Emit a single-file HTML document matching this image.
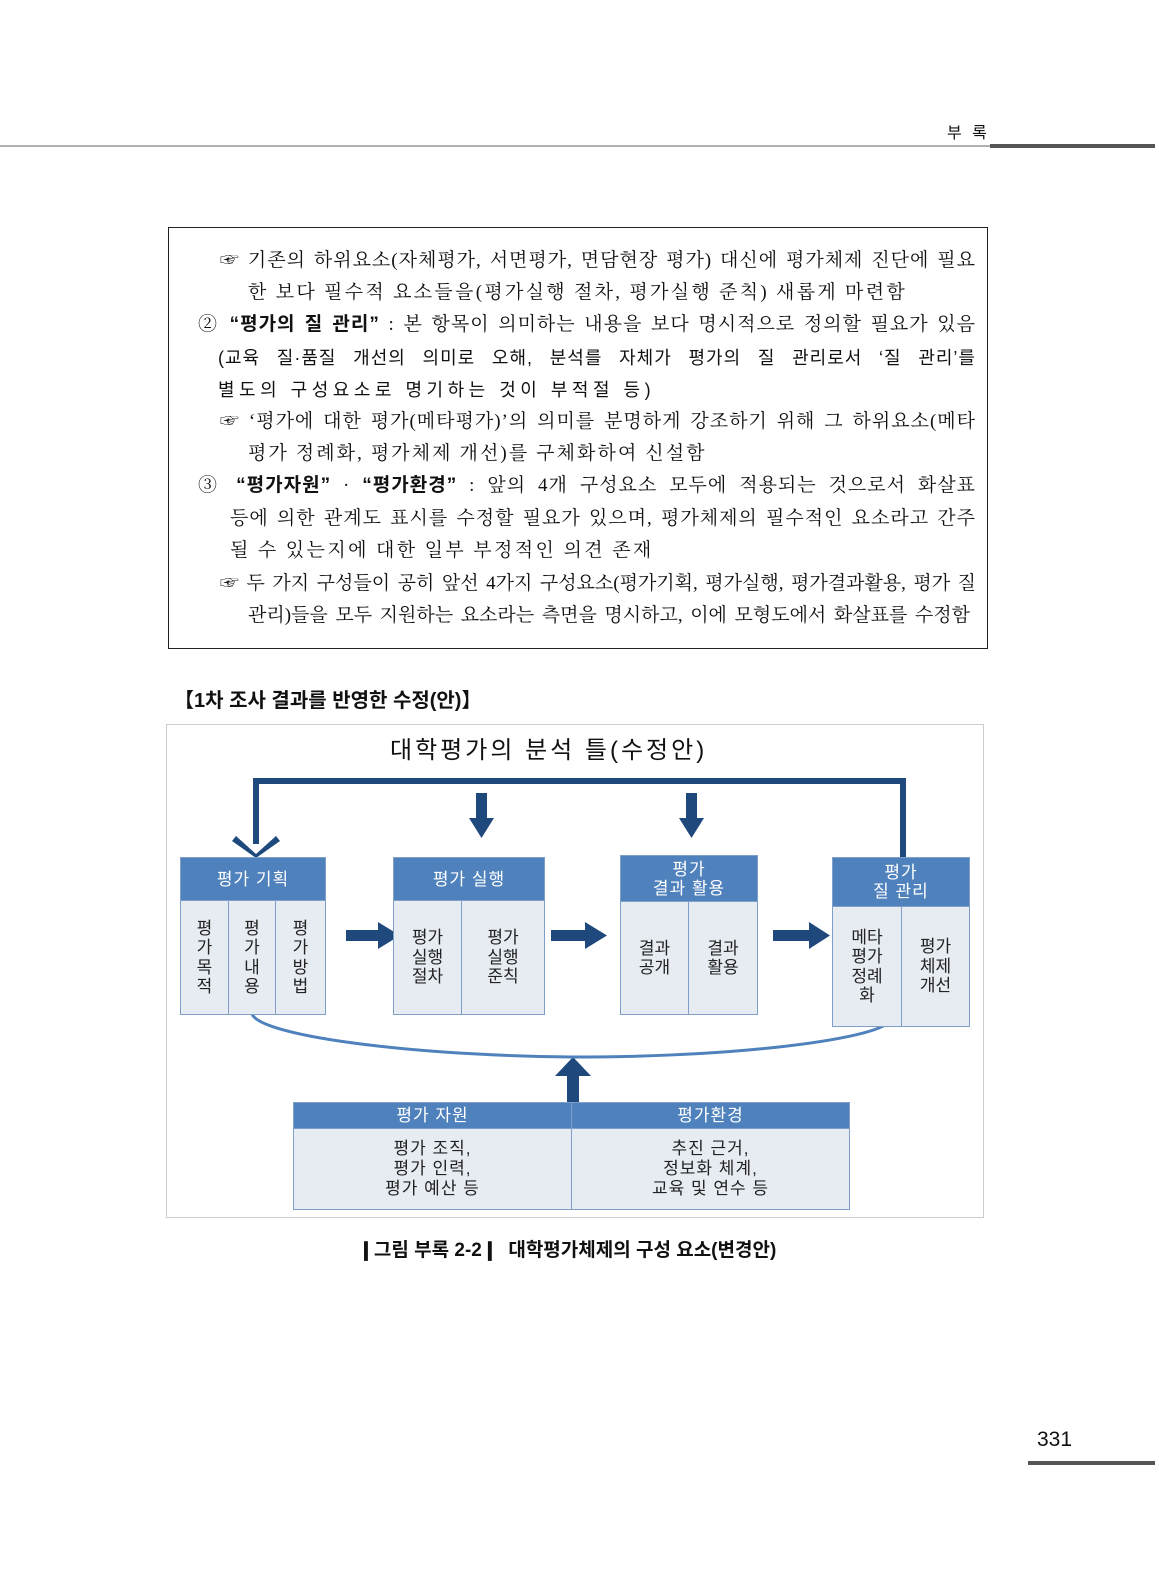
<!DOCTYPE html>
<html><head><meta charset="utf-8"><style>
body{margin:0;width:1159px;height:1571px;background:#fff;position:relative;overflow:hidden;font-family:"Liberation Serif","Noto Serif CJK SC",serif;color:#111}
.a{position:absolute;white-space:nowrap}
.l{position:absolute;font-size:19px;line-height:24px;white-space:nowrap;text-align:justify;text-align-last:justify;letter-spacing:1px}
.n{text-align-last:left}
b{font-family:"Liberation Sans","Noto Sans CJK KR",sans-serif;font-weight:bold}
.s{font-family:"Liberation Sans","Noto Sans CJK KR",sans-serif}
.box{position:absolute;background:#e7ecf3;border:1px solid #7f9fc9;box-sizing:border-box}
.hd{position:absolute;background:#4f81bd;color:#fff;font-family:"Liberation Sans","Noto Sans CJK KR",sans-serif;font-size:17px;text-align:center;line-height:19px;display:flex;align-items:center;justify-content:center;box-sizing:border-box;border:1px solid #7f9fc9;letter-spacing:1px}
.c{position:absolute;font-family:"Liberation Sans","Noto Sans CJK KR",sans-serif;font-size:17px;line-height:19.5px;text-align:center;display:flex;align-items:center;justify-content:center;box-sizing:border-box;border-right:1px solid #7f9fc9;color:#222}
</style></head><body>
<div class="a s" style="left:947px;top:119px;font-size:16px;letter-spacing:3px">부 록</div>
<div class="a" style="left:0;top:145px;width:990px;height:2px;background:#b0b0b0"></div>
<div class="a" style="left:990px;top:144px;width:165px;height:4px;background:#555"></div>

<div class="a" style="left:168px;top:227px;width:820px;height:422px;border:1px solid #222;box-sizing:border-box"></div>
<div class="l" style="left:220px;top:249px;width:756px">☞ 기존의 하위요소(자체평가, 서면평가, 면담현장 평가) 대신에 평가체제 진단에 필요</div>
<div class="l n" style="left:248px;top:281px;letter-spacing:2.3px">한 보다 필수적 요소들을(평가실행 절차, 평가실행 준칙) 새롭게 마련함</div>
<div class="l" style="left:198px;top:313px;width:778px">② <b>“평가의 질 관리”</b> : 본 항목이 의미하는 내용을 보다 명시적으로 정의할 필요가 있음</div>
<div class="l s" style="left:218px;top:346px;width:758px;font-size:18px">(교육 질·품질 개선의 의미로 오해, 분석를 자체가 평가의 질 관리로서 ‘질 관리’를</div>
<div class="l s n" style="left:218px;top:378px;font-size:18px;letter-spacing:4.5px">별도의 구성요소로 명기하는 것이 부적절 등)</div>
<div class="l" style="left:220px;top:410px;width:756px">☞ ‘평가에 대한 평가(메타평가)’의 의미를 분명하게 강조하기 위해 그 하위요소(메타</div>
<div class="l n" style="left:248px;top:442px;letter-spacing:2.1px">평가 정례화, 평가체제 개선)를 구체화하여 신설함</div>
<div class="l" style="left:198px;top:474px;width:778px">③ <b>“평가자원”</b> · <b>“평가환경”</b> : 앞의 4개 구성요소 모두에 적용되는 것으로서 화살표</div>
<div class="l" style="left:230px;top:507px;width:746px">등에 의한 관계도 표시를 수정할 필요가 있으며, 평가체제의 필수적인 요소라고 간주</div>
<div class="l n" style="left:230px;top:539px;letter-spacing:2.4px">될 수 있는지에 대한 일부 부정적인 의견 존재</div>
<div class="l" style="left:220px;top:572px;width:756px;letter-spacing:0">☞ 두 가지 구성들이 공히 앞선 4가지 구성요소(평가기획, 평가실행, 평가결과활용, 평가 질</div>
<div class="l" style="left:248px;top:604px;width:722px;letter-spacing:0">관리)들을 모두 지원하는 요소라는 측면을 명시하고, 이에 모형도에서 화살표를 수정함</div>

<div class="a" style="left:174px;top:684px;font-size:20px;font-weight:bold;font-family:'Liberation Sans','Noto Sans CJK KR',sans-serif">【1차 조사 결과를 반영한 수정(안)】</div>

<div class="a" style="left:166px;top:724px;width:818px;height:494px;border:1px solid #ccc;box-sizing:border-box"></div>
<div class="a s" style="left:390px;top:730px;font-size:24px;letter-spacing:3px">대학평가의 분석 틀(수정안)</div>

<svg class="a" style="left:0;top:0" width="1159" height="1571">
<g fill="#1f497d" stroke="none">
<path d="M253 778h653v79h-6v-73h-641v60h-6z"/>
<path d="M236 836l20 18 20-18 4 5-24 17-24-17z"/>
<path d="M476 793h11v25h7l-12.5 20-12.5-20h7z"/>
<path d="M686 793h11v25h7l-12.5 20-12.5-20h7z"/>
<path d="M346 930h32v-8l22 13.5-22 13.5v-8h-32z"/>
<path d="M551 930h34v-8l22 13.5-22 13.5v-8h-34z"/>
<path d="M773 930h36v-8l21 13.5-21 13.5v-8h-36z"/>
<path d="M567 1102v-26h-12l18-19 18 19h-12v26z"/>
</g>
<path d="M252 1014 C260 1035 400 1055 572 1057 C740 1057 860 1040 885 1025" fill="none" stroke="#4f81bd" stroke-width="3"/>
</svg>

<div class="box" style="left:180px;top:857px;width:146px;height:158px"></div>
<div class="hd" style="left:180px;top:857px;width:146px;height:44px">평가 기획</div>
<div class="c" style="left:181px;top:901px;width:48px;height:113px">평<br>가<br>목<br>적</div>
<div class="c" style="left:229px;top:901px;width:47px;height:113px">평<br>가<br>내<br>용</div>
<div class="c" style="left:276px;top:901px;width:49px;height:113px;border:0">평<br>가<br>방<br>법</div>

<div class="box" style="left:393px;top:857px;width:152px;height:158px"></div>
<div class="hd" style="left:393px;top:857px;width:152px;height:44px">평가 실행</div>
<div class="c" style="left:394px;top:901px;width:68px;height:113px">평가<br>실행<br>절차</div>
<div class="c" style="left:462px;top:901px;width:82px;height:113px;border:0">평가<br>실행<br>준칙</div>

<div class="box" style="left:620px;top:855px;width:138px;height:160px"></div>
<div class="hd" style="left:620px;top:855px;width:138px;height:47px">평가<br>결과 활용</div>
<div class="c" style="left:621px;top:902px;width:68px;height:112px">결과<br>공개</div>
<div class="c" style="left:689px;top:902px;width:68px;height:112px;border:0">결과<br>활용</div>

<div class="box" style="left:832px;top:857px;width:138px;height:170px"></div>
<div class="hd" style="left:832px;top:857px;width:138px;height:50px">평가<br>질 관리</div>
<div class="c" style="left:833px;top:907px;width:69px;height:119px">메타<br>평가<br>정례<br>화</div>
<div class="c" style="left:902px;top:907px;width:67px;height:119px;border:0">평가<br>체제<br>개선</div>

<div class="box" style="left:293px;top:1102px;width:557px;height:108px"></div>
<div class="hd" style="left:293px;top:1102px;width:279px;height:27px">평가 자원</div>
<div class="hd" style="left:571px;top:1102px;width:279px;height:27px">평가환경</div>
<div class="c" style="left:294px;top:1129px;width:278px;height:80px;line-height:20px;letter-spacing:1px">평가 조직,<br>평가 인력,<br>평가 예산 등</div>
<div class="c" style="left:572px;top:1129px;width:277px;height:80px;line-height:20px;border:0;letter-spacing:1px">추진 근거,<br>정보화 체계,<br>교육 및 연수 등</div>

<div class="a s" style="left:358px;top:1235px;font-size:19px;font-weight:bold">❙그림 부록 2-2❙ &nbsp;대학평가체제의 구성 요소(변경안)</div>

<div class="a s" style="left:1037px;top:1428px;font-size:21px">331</div>
<div class="a" style="left:1028px;top:1461px;width:127px;height:4px;background:#555"></div>
</body></html>
